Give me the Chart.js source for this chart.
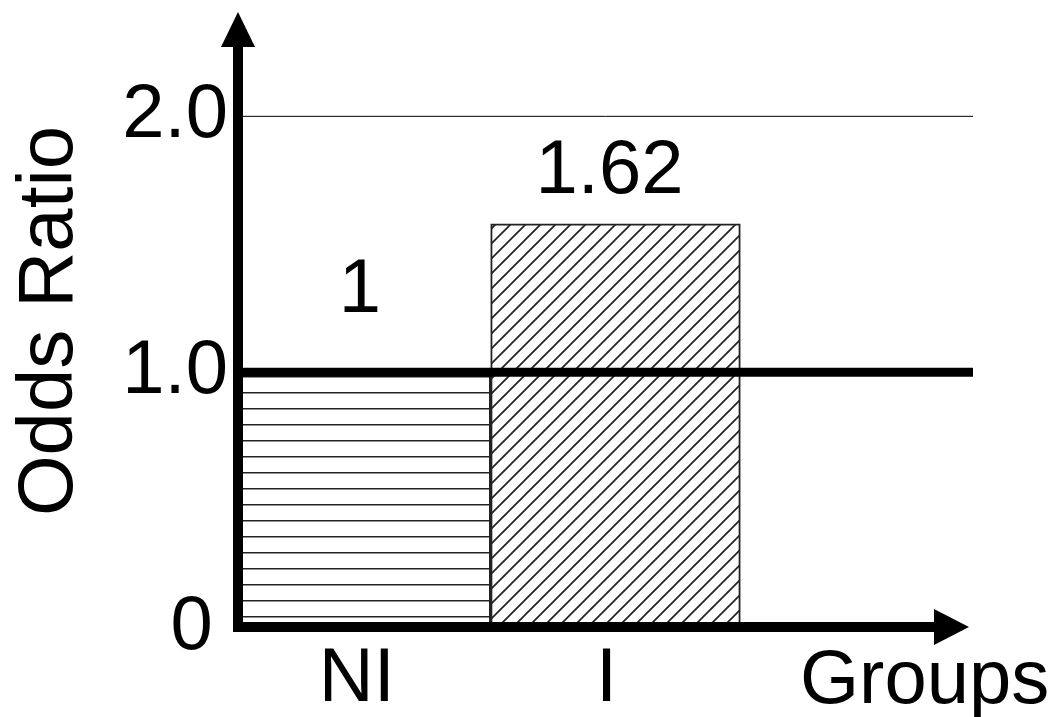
<!DOCTYPE html>
<html>
<head>
<meta charset="utf-8">
<script src="https://cdn.jsdelivr.net/npm/chart.js@4.4.1/dist/chart.umd.min.js"></script>
<style>
  body { margin: 0; background: #fff; }
  canvas { display: block; }
</style>
</head>
<body>
<canvas id="orChart" width="1059" height="717"></canvas>
<script>
// data
const groups = ['NI', 'I', ''];
const oddsRatios = [1, 1.58, null];
const valueLabels = ['1', '1.62'];
const yTicks = [0, 1, 2];
const refLines = [1, 2];

const FONT = '"Liberation Sans", Arial, sans-serif';

function makePattern(kind) {
    const c = document.createElement('canvas');
    const size = kind === 'horizontal' ? 16 : 15;
    c.width = size;
    c.height = size;
    const g = c.getContext('2d');
    g.fillStyle = '#fff';
    g.fillRect(0, 0, size, size);
    g.strokeStyle = '#222';
    if (kind === 'horizontal') {
        g.fillStyle = '#222';
        g.fillRect(0, 8, size, 1.5);
    } else {
        g.lineWidth = 1.7;
        g.beginPath();
        g.moveTo(-1, size + 1); g.lineTo(size + 1, -1);
        g.moveTo(-2, 2); g.lineTo(2, -2);
        g.moveTo(size - 2, size + 2); g.lineTo(size + 2, size - 2);
        g.stroke();
    }
    return g.createPattern(c, 'repeat');
}

const axesPlugin = {
    id: 'axesPlugin',
    afterDatasetsDraw(chart) {
        const { ctx, chartArea, scales } = chart;
        const y = scales.y;
        const x0 = chartArea.left - 3;
        const yBase = chartArea.bottom - 1;
        ctx.save();

        // reference lines at 1.0 (thick) and 2.0 (thin)
        refLines.forEach(v => {
            const py = y.getPixelForValue(v);
            ctx.beginPath();
            ctx.lineWidth = v === 1 ? 9 : 1;
            ctx.strokeStyle = '#000';
            ctx.moveTo(x0, py);
            ctx.lineTo(chartArea.right - 17, py);
            ctx.stroke();
        });

        // value labels above bars
        ctx.fillStyle = '#000';
        ctx.font = '76px ' + FONT;
        ctx.textAlign = 'center';
        ctx.textBaseline = 'alphabetic';
        const meta = chart.getDatasetMeta(0);
        const gaps = [60, 31];
        valueLabels.forEach((t, i) => {
            const bar = meta.data[i];
            ctx.fillText(t, bar.x - 6, bar.y - gaps[i]);
        });

        // x axis title
        ctx.textAlign = 'left';
        ctx.fillText('Groups', chartArea.right - 190, chartArea.bottom + 75);

        // axis lines with arrows
        ctx.lineWidth = 10;
        ctx.lineCap = 'square';
        ctx.beginPath();
        ctx.moveTo(x0, yBase);
        ctx.lineTo(x0, chartArea.top + 30);
        ctx.moveTo(x0, yBase);
        ctx.lineTo(chartArea.right - 50, yBase);
        ctx.stroke();

        ctx.beginPath();
        ctx.moveTo(x0, chartArea.top - 2);
        ctx.lineTo(x0 - 17, chartArea.top + 33);
        ctx.lineTo(x0 + 17, chartArea.top + 33);
        ctx.closePath();
        ctx.fill();

        ctx.beginPath();
        ctx.moveTo(chartArea.right - 21, yBase);
        ctx.lineTo(chartArea.right - 56, yBase - 18);
        ctx.lineTo(chartArea.right - 56, yBase + 18);
        ctx.closePath();
        ctx.fill();
        ctx.restore();
    }
};

function initChart() {
    const ctx = document.getElementById('orChart').getContext('2d');
    new Chart(ctx, {
        type: 'bar',
        data: {
            labels: groups,
            datasets: [{
                data: oddsRatios,
                backgroundColor: [makePattern('horizontal'), makePattern('diagonal'), '#fff'],
                borderColor: '#222',
                borderWidth: 2,
                barPercentage: 1,
                categoryPercentage: 1
            }]
        },
        options: {
            responsive: false,
            animation: false,
            devicePixelRatio: 1,
            layout: { padding: { top: 14, right: 69, bottom: 0, left: 0 } },
            plugins: { legend: { display: false }, tooltip: { enabled: false } },
            scales: {
                x: {
                    grid: { display: false, drawTicks: false },
                    border: { display: false },
                    ticks: {
                        color: '#000',
                        padding: 6,
                        maxRotation: 0,
                        labelOffset: -9,
                        font: { family: FONT, size: 76 }
                    },
                    afterFit(scale) {
                        scale.height = 89;
                        scale.paddingLeft = 0;
                        scale.paddingRight = 0;
                    }
                },
                y: {
                    min: 0,
                    max: 2.4,
                    grid: { display: false, drawTicks: false },
                    border: { display: false },
                    afterBuildTicks(scale) {
                        scale.ticks = yTicks.map(v => ({ value: v }));
                    },
                    ticks: {
                        color: '#000',
                        padding: 13,
                        font: { family: FONT, size: 76 },
                        callback: v => v === 0 ? '0\u2009' : v.toFixed(1)
                    },
                    title: {
                        display: true,
                        text: 'Odds Ratio',
                        color: '#000',
                        padding: { top: 4, bottom: 0 },
                        font: { family: FONT, size: 78 }
                    },
                    afterFit(scale) {
                        scale.width = 241;
                        scale.paddingTop = 0;
                        scale.paddingBottom = 0;
                    }
                }
            }
        },
        plugins: [axesPlugin]
    });
}

document.addEventListener('DOMContentLoaded', initChart);
</script>
</body>
</html>
